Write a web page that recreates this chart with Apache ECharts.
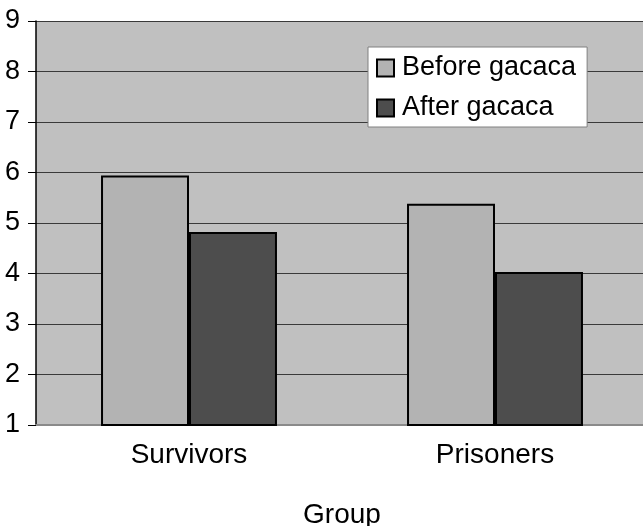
<!DOCTYPE html>
<html>
<head>
<meta charset="utf-8">
<script src="https://cdn.jsdelivr.net/npm/echarts@6/dist/echarts.min.js"></script>
<style>
  html, body { margin: 0; padding: 0; background: #ffffff; }
  #chart { width: 643px; height: 526px; }
</style>
</head>
<body>
<div id="chart"></div>
<script>
// Mean scores per group, before and after the gacaca courts
const groups = ['Survivors', 'Prisoners'];
const beforeGacaca = [5.94, 5.38];
const afterGacaca = [4.82, 4.03];
const seriesNames = ['Before gacaca', 'After gacaca'];
const axisTitle = 'Group';

const chart = echarts.init(document.getElementById('chart'), null, { renderer: 'canvas' });

const fontFamily = 'Liberation Sans, Arial, sans-serif';

chart.setOption({
  animation: false,
  backgroundColor: '#ffffff',
  grid: {
    left: 36,
    top: 21,
    width: 612,
    height: 404,
    show: true,
    backgroundColor: '#c0c0c0',
    borderWidth: 0,
    outerBoundsMode: 'none'
  },
  legend: {
    orient: 'vertical',
    left: 368,
    top: 47,
    padding: [6, 11, 4, 8],
    itemGap: 10,
    itemWidth: 17,
    itemHeight: 17,
    backgroundColor: '#ffffff',
    borderColor: '#808080',
    borderWidth: 1,
    icon: 'rect',
    textStyle: {
      fontFamily: fontFamily,
      fontSize: 27,
      color: '#000000',
      lineHeight: 30,
      padding: [0, 0, 0, 3]
    },
    data: seriesNames
  },
  xAxis: {
    type: 'category',
    data: groups,
    name: axisTitle,
    nameLocation: 'middle',
    nameGap: 76,
    nameTextStyle: { fontFamily: fontFamily, fontSize: 28, color: '#000000' },
    axisLine: { show: true, lineStyle: { color: '#8a8a8a', width: 2 } },
    axisTick: { show: false },
    axisLabel: { fontFamily: fontFamily, fontSize: 28, color: '#000000', margin: 16 },
    splitLine: { show: false }
  },
  yAxis: {
    type: 'value',
    min: 1,
    max: 9,
    interval: 1,
    axisLine: { show: true, lineStyle: { color: '#000000', width: 1.5 } },
    axisTick: { show: true, length: 8, lineStyle: { color: '#000000', width: 1 } },
    axisLabel: { fontFamily: fontFamily, fontSize: 27, color: '#000000', margin: 16 },
    splitLine: { show: true, lineStyle: { color: '#3a3a3a', width: 1.2 } }
  },
  series: [
    {
      name: seriesNames[0],
      type: 'bar',
      data: beforeGacaca,
      barGap: '0%',
      barCategoryGap: '42.5%',
      itemStyle: { color: '#b3b3b3', borderColor: '#000000', borderWidth: 2 }
    },
    {
      name: seriesNames[1],
      type: 'bar',
      data: afterGacaca,
      barGap: '0%',
      barCategoryGap: '42.5%',
      itemStyle: { color: '#4d4d4d', borderColor: '#000000', borderWidth: 2 }
    }
  ]
});
</script>
</body>
</html>
